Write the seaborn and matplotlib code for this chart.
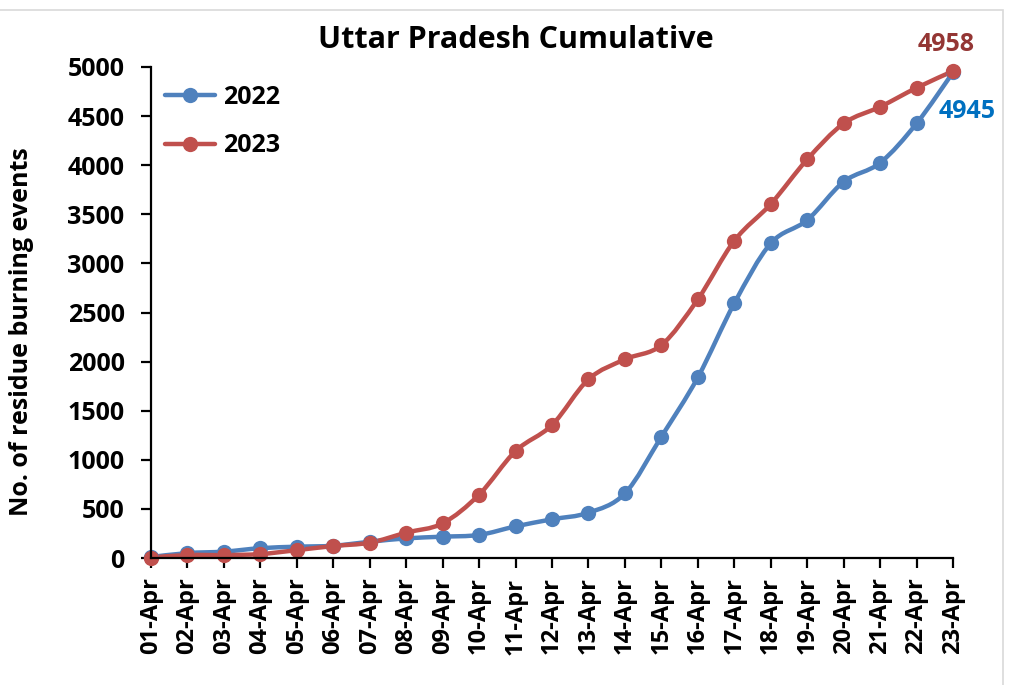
import matplotlib

matplotlib.use("Agg")
import matplotlib.pyplot as plt
import numpy as np
import pandas as pd
import seaborn as sns
from matplotlib.lines import Line2D
from matplotlib.patches import PathPatch, Rectangle
from matplotlib.path import Path

# Data.
dates = ["{:02d}-Apr".format(d) for d in range(1, 24)]
cum_2022 = [10, 50, 65, 100, 115, 125, 165, 200, 217, 235, 322, 394, 461,
            658, 1235, 1839, 2593, 3204, 3441, 3831, 4024, 4425, 4945]
cum_2023 = [5, 30, 30, 40, 80, 122, 156, 258, 353, 645, 1089, 1354, 1819,
            2023, 2168, 2634, 3230, 3604, 4059, 4425, 4594, 4788, 4958]
years = ["2022", "2023"]

palette = {"2022": "#4F81BD", "2023": "#C0504D"}


def smooth_path(xs, ys):
    # Excel style smoothed line: cubic bezier segments (Catmull-Rom).
    pts = np.column_stack([xs, ys]).astype(float)
    n = len(pts)
    verts = [pts[0]]
    codes = [Path.MOVETO]
    for i in range(n - 1):
        p_prev = pts[i - 1] if i > 0 else pts[i]
        p_next = pts[i + 2] if i + 2 < n else pts[i + 1]
        c1 = pts[i] + (pts[i + 1] - p_prev) / 6.0
        c2 = pts[i + 1] - (p_next - pts[i]) / 6.0
        verts.extend([c1, c2, pts[i + 1]])
        codes.extend([Path.CURVE4] * 3)
    return Path(verts, codes)


df = pd.DataFrame({
    "idx": list(range(len(dates))) * 2,
    "value": cum_2022 + cum_2023,
    "year": ["2022"] * len(dates) + ["2023"] * len(dates),
})

sns.set_style("ticks", {"axes.edgecolor": "black", "xtick.color": "black",
                        "ytick.color": "black", "text.color": "black",
                        "axes.labelcolor": "black"})
plt.rcParams["font.family"] = ["Open Sans", "DejaVu Sans"]
plt.rcParams["font.weight"] = "bold"

fig = plt.figure(figsize=(10.11, 6.85), dpi=100)
ax = fig.add_axes([151 / 1011, 1 - 558 / 685, (953 - 151) / 1011, (558 - 67) / 685])

for year, values in zip(years, [cum_2022, cum_2023]):
    patch = PathPatch(smooth_path(range(len(dates)), values), facecolor="none",
                      edgecolor=palette[year], linewidth=3.2, clip_on=False,
                      capstyle="round", joinstyle="round")
    ax.add_patch(patch)

sns.lineplot(
    data=df,
    x="idx",
    y="value",
    hue="year",
    palette=palette,
    marker="o",
    markersize=11,
    markeredgewidth=0,
    linestyle="",
    clip_on=False,
    legend=False,
    ax=ax,
)

ax.set_xlim(0, len(dates) - 1)
ax.set_ylim(0, 5000)
ax.set_yticks(np.arange(0, 5001, 500))
ax.set_xticks(range(len(dates)))
ax.set_xticklabels(dates, rotation=90, fontsize=17, fontweight="bold")
ax.tick_params(axis="y", labelsize=18, width=1.6, length=7, pad=12, colors="black")
ax.tick_params(axis="x", width=1.6, length=7, pad=7, colors="black")
for label in ax.get_yticklabels():
    label.set_fontweight("bold")
for side in ["left", "bottom"]:
    ax.spines[side].set_linewidth(1.6)
    ax.spines[side].set_color("black")
sns.despine(ax=ax)

ax.set_xlabel("")
ax.set_ylabel("No. of residue burning events", fontsize=18, fontweight="bold",
              color="black")
ax.yaxis.set_label_coords(-0.146, 0.462)
fig.text(516 / 1011, 1 - 40 / 685, "Uttar Pradesh Cumulative", fontsize=22,
         fontweight="bold", ha="center", va="center", color="black")

handles = [Line2D([], [], color=palette[y], marker="o", markersize=11,
                  markeredgewidth=0, linewidth=3.2) for y in years]
leg = ax.legend(
    handles,
    years,
    loc="upper left",
    bbox_to_anchor=(-0.01, 1.01),
    frameon=False,
    fontsize=18,
    handlelength=2.0,
    handletextpad=0.3,
    labelspacing=0.95,
)
for t in leg.get_texts():
    t.set_fontweight("bold")
    t.set_color("black")

ax.annotate("4958", xy=(len(dates) - 1, cum_2023[-1]), xytext=(-5, 19),
            textcoords="offset points", ha="center", va="center",
            fontsize=18, fontweight="bold", color="#943634", annotation_clip=False)
ax.annotate("4945", xy=(len(dates) - 1, cum_2022[-1]), xytext=(10, -28),
            textcoords="offset points", ha="center", va="center",
            fontsize=18, fontweight="bold", color="#0070C0", annotation_clip=False)

fig.patches.append(Rectangle((-0.01, -0.01), 1003 / 1011 + 0.01, 1 - 10 / 685 + 0.01,
                             transform=fig.transFigure, fill=False,
                             edgecolor="#D9D9D9", linewidth=1.2))

fig.savefig("out.png", dpi=100)
plt.close()
